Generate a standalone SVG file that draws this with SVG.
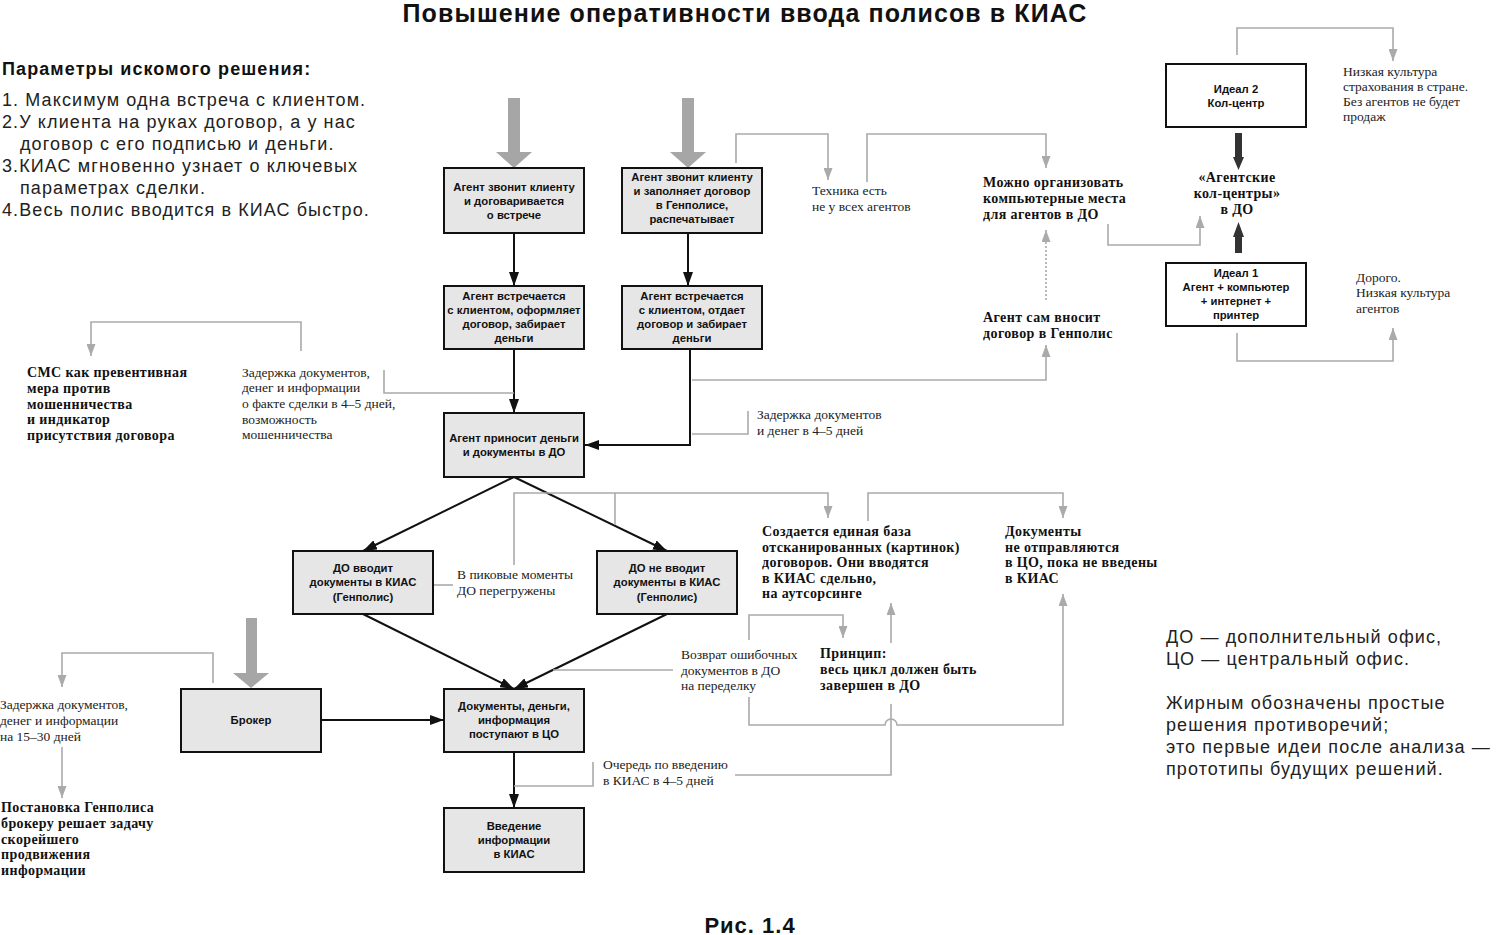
<svg xmlns="http://www.w3.org/2000/svg" width="1500" height="935" viewBox="0 0 1500 935">
<style>
.box{fill:#e6e6e6;stroke:#111;stroke-width:2}
.ibox{fill:#fff;stroke:#111;stroke-width:2}
.bt{font-family:"Liberation Sans",Arial,sans-serif;font-weight:bold;font-size:11.3px;fill:#111;text-anchor:middle}
.s{font-family:"Liberation Serif","Times New Roman",serif;font-size:13.5px;fill:#222}
.sb{font-family:"Liberation Serif","Times New Roman",serif;font-size:14px;font-weight:bold;fill:#111;letter-spacing:0.4px}
.p{font-family:"Liberation Sans",Arial,sans-serif;font-size:18px;fill:#222;letter-spacing:1.1px}
.blk{fill:none;stroke:#111;stroke-width:2}
.gr{fill:none;stroke:#aaa;stroke-width:1.6}
.big{fill:#a6a6a6}
.dk{fill:#333}
</style>
<defs>
<marker id="ab" viewBox="0 0 14 10" refX="14" refY="5" markerWidth="14" markerHeight="10" orient="auto" markerUnits="userSpaceOnUse"><path d="M0,0 L14,5 L0,10 z" fill="#111"/></marker>
<marker id="ag" viewBox="0 0 12 9" refX="12" refY="4.5" markerWidth="12" markerHeight="9" orient="auto" markerUnits="userSpaceOnUse"><path d="M0,0 L12,4.5 L0,9 z" fill="#aaa"/></marker>
</defs>
<rect width="1500" height="935" fill="#fff"/>

<text x="745" y="22" text-anchor="middle" style="font-family:'Liberation Sans',Arial,sans-serif;font-weight:bold;font-size:25px;fill:#111;letter-spacing:1.1px">Повышение оперативности ввода полисов в КИАС</text>

<g id="params">
<text x="2" y="75" style="font-family:'Liberation Sans',Arial,sans-serif;font-weight:bold;font-size:18px;fill:#111;letter-spacing:1.1px">Параметры искомого решения:</text>
<text class="p" x="2" y="106">1. Максимум одна встреча с клиентом.</text>
<text class="p" x="2" y="128">2.У клиента на руках договор, а у нас</text>
<text class="p" x="20" y="150">договор с его подписью и деньги.</text>
<text class="p" x="2" y="172">3.КИАС мгновенно узнает о ключевых</text>
<text class="p" x="20" y="194">параметрах сделки.</text>
<text class="p" x="2" y="216">4.Весь полис вводится в КИАС быстро.</text>
</g>

<g id="connectors">
<polygon class="big" points="508,98 520,98 520,152 532,152 514,168 496,152 508,152"/>
<polygon class="big" points="682,98 694,98 694,152 706,152 688,168 670,152 682,152"/>
<polygon class="big" points="246,618 257,618 257,673 269,673 251,688 233,673 246,673"/>
<polygon class="dk" points="1235,133 1242,133 1242,157 1244,157 1238.5,170 1233,157 1235,157"/>
<polygon class="dk" points="1235,253 1242,253 1242,237 1244,237 1238.5,222 1233,237 1235,237"/>
<path class="blk" d="M514,233 V286" marker-end="url(#ab)"/>
<path class="blk" d="M688,233 V286" marker-end="url(#ab)"/>
<path class="blk" d="M514,349 V413" marker-end="url(#ab)"/>
<path class="blk" d="M690,349 V445 H585" marker-end="url(#ab)"/>
<path class="blk" d="M514,477 L363,551" marker-end="url(#ab)"/>
<path class="blk" d="M514,477 L667,551" marker-end="url(#ab)"/>
<path class="blk" d="M363,614 L514,689" marker-end="url(#ab)"/>
<path class="blk" d="M667,614 L514,689" marker-end="url(#ab)"/>
<path class="blk" d="M321,720 H444" marker-end="url(#ab)"/>
<path class="blk" d="M514,752 V808" marker-end="url(#ab)"/>
<path class="gr" d="M736,163 V134 H828 V180" marker-end="url(#ag)"/>
<path class="gr" d="M867,182 V134 H1046 V168" marker-end="url(#ag)"/>
<path class="gr" d="M1108,224 V245 H1200 V216" marker-end="url(#ag)"/>
<path class="gr" d="M1046,300 V230" stroke-dasharray="2,2" marker-end="url(#ag)"/>
<path class="gr" d="M692,380 H1046 V345" marker-end="url(#ag)"/>
<path class="gr" d="M1237,55 V28 H1393 V61" marker-end="url(#ag)"/>
<path class="gr" d="M1237,333 V361 H1393 V328" marker-end="url(#ag)"/>
<path class="gr" d="M301,351 V322 H91 V356" marker-end="url(#ag)"/>
<path class="gr" d="M384,370 V393 H514"/>
<path class="gr" d="M748,411 V434 H692"/>
<path class="gr" d="M514,565 V493 H828 V518" marker-end="url(#ag)"/>
<path class="gr" d="M615,493 V525"/>
<path class="gr" d="M433,585 H453"/>
<path class="gr" d="M868,521 V493 H1063 V518" marker-end="url(#ag)"/>
<path class="gr" d="M553,670 H673"/>
<path class="gr" d="M749,640 V615 H843 V638" marker-end="url(#ag)"/>
<path class="gr" d="M891,643 V603" marker-end="url(#ag)"/>
<path class="gr" d="M749,697 V725 H885 A6,6 0 0 1 897,725 H1063 V594" marker-end="url(#ag)"/>
<path class="gr" d="M891,704 V775 H735"/>
<path class="gr" d="M593,762 V786 H514"/>
<path class="gr" d="M213,683 V653 H62 V687" marker-end="url(#ag)"/>
<path class="gr" d="M62,747 V798" marker-end="url(#ag)"/>
</g>

<g id="b1"><rect class="box" x="444" y="168" width="140" height="65"/>
<text class="bt" x="514" y="191">Агент звонит клиенту</text><text class="bt" x="514" y="205">и договаривается</text><text class="bt" x="514" y="219">о встрече</text></g>
<g id="b2"><rect class="box" x="622" y="168" width="140" height="65"/>
<text class="bt" x="692" y="181">Агент звонит клиенту</text><text class="bt" x="692" y="195">и заполняет договор</text><text class="bt" x="692" y="209">в Генполисе,</text><text class="bt" x="692" y="223">распечатывает</text></g>
<g id="b3"><rect class="box" x="444" y="286" width="140" height="63"/>
<text class="bt" x="514" y="300">Агент встречается</text><text class="bt" x="514" y="314">с клиентом, оформляет</text><text class="bt" x="514" y="328">договор, забирает</text><text class="bt" x="514" y="342">деньги</text></g>
<g id="b4"><rect class="box" x="622" y="286" width="140" height="63"/>
<text class="bt" x="692" y="300">Агент встречается</text><text class="bt" x="692" y="314">с клиентом, отдает</text><text class="bt" x="692" y="328">договор и забирает</text><text class="bt" x="692" y="342">деньги</text></g>
<g id="b5"><rect class="box" x="444" y="413" width="140" height="64"/>
<text class="bt" x="514" y="442">Агент приносит деньги</text><text class="bt" x="514" y="456">и документы в ДО</text></g>
<g id="b6"><rect class="box" x="293" y="551" width="140" height="63"/>
<text class="bt" x="363" y="572">ДО вводит</text><text class="bt" x="363" y="586">документы в КИАС</text><text class="bt" x="363" y="601">(Генполис)</text></g>
<g id="b7"><rect class="box" x="597" y="551" width="140" height="63"/>
<text class="bt" x="667" y="572">ДО не вводит</text><text class="bt" x="667" y="586">документы в КИАС</text><text class="bt" x="667" y="601">(Генполис)</text></g>
<g id="b8"><rect class="box" x="181" y="689" width="140" height="63"/>
<text class="bt" x="251" y="724">Брокер</text></g>
<g id="b9"><rect class="box" x="444" y="689" width="140" height="63"/>
<text class="bt" x="514" y="710">Документы, деньги,</text><text class="bt" x="514" y="724">информация</text><text class="bt" x="514" y="738">поступают в ЦО</text></g>
<g id="b10"><rect class="box" x="444" y="808" width="140" height="64"/>
<text class="bt" x="514" y="830">Введение</text><text class="bt" x="514" y="844">информации</text><text class="bt" x="514" y="858">в КИАС</text></g>
<g id="ideal2"><rect class="ibox" x="1166" y="64" width="140" height="63"/>
<text class="bt" x="1236" y="93">Идеал 2</text><text class="bt" x="1236" y="107">Кол-центр</text></g>
<g id="ideal1"><rect class="ibox" x="1166" y="263" width="140" height="63"/>
<text class="bt" x="1236" y="277">Идеал 1</text><text class="bt" x="1236" y="291">Агент + компьютер</text><text class="bt" x="1236" y="305">+ интернет +</text><text class="bt" x="1236" y="319">принтер</text></g>

<g id="n-tech"><text class="s" x="812" y="195">Техника есть</text><text class="s" x="812" y="211">не у всех агентов</text></g>
<g id="n-comp"><text class="sb" x="983" y="187">Можно организовать</text><text class="sb" x="983" y="203">компьютерные места</text><text class="sb" x="983" y="219">для агентов в ДО</text></g>
<g id="n-self"><text class="sb" x="983" y="322">Агент сам вносит</text><text class="sb" x="983" y="338">договор в Генполис</text></g>
<g id="n-callc"><text class="sb" x="1237" y="182" text-anchor="middle">«Агентские</text><text class="sb" x="1237" y="198" text-anchor="middle">кол-центры»</text><text class="sb" x="1237" y="214" text-anchor="middle">в ДО</text></g>
<g id="n-lowcult"><text class="s" x="1343" y="76">Низкая культура</text><text class="s" x="1343" y="91">страхования в стране.</text><text class="s" x="1343" y="106">Без агентов не будет</text><text class="s" x="1343" y="121">продаж</text></g>
<g id="n-dear"><text class="s" x="1356" y="282">Дорого.</text><text class="s" x="1356" y="297">Низкая культура</text><text class="s" x="1356" y="313">агентов</text></g>
<g id="n-sms"><text class="sb" x="27" y="377">СМС как превентивная</text><text class="sb" x="27" y="393">мера против</text><text class="sb" x="27" y="409">мошенничества</text><text class="sb" x="27" y="424">и индикатор</text><text class="sb" x="27" y="440">присутствия договора</text></g>
<g id="n-delay1"><text class="s" x="242" y="377">Задержка документов,</text><text class="s" x="242" y="392">денег и информации</text><text class="s" x="242" y="408">о факте сделки в 4–5 дней,</text><text class="s" x="242" y="424">возможность</text><text class="s" x="242" y="439">мошенничества</text></g>
<g id="n-delay2"><text class="s" x="757" y="419">Задержка документов</text><text class="s" x="757" y="435">и денег в 4–5 дней</text></g>
<g id="n-peak"><text class="s" x="457" y="579">В пиковые моменты</text><text class="s" x="457" y="595">ДО перегружены</text></g>
<g id="n-base"><text class="sb" x="762" y="536">Создается единая база</text><text class="sb" x="762" y="552">отсканированных (картинок)</text><text class="sb" x="762" y="567">договоров. Они вводятся</text><text class="sb" x="762" y="583">в КИАС сдельно,</text><text class="sb" x="762" y="598">на аутсорсинге</text></g>
<g id="n-nosend"><text class="sb" x="1005" y="536">Документы</text><text class="sb" x="1005" y="552">не отправляются</text><text class="sb" x="1005" y="567">в ЦО, пока не введены</text><text class="sb" x="1005" y="583">в КИАС</text></g>
<g id="n-return"><text class="s" x="681" y="659">Возврат ошибочных</text><text class="s" x="681" y="675">документов в ДО</text><text class="s" x="681" y="690">на переделку</text></g>
<g id="n-princ"><text class="sb" x="820" y="658">Принцип:</text><text class="sb" x="820" y="674">весь цикл должен быть</text><text class="sb" x="820" y="690">завершен в ДО</text></g>
<g id="n-queue"><text class="s" x="603" y="769">Очередь по введению</text><text class="s" x="603" y="785">в КИАС в 4–5 дней</text></g>
<g id="n-delay3"><text class="s" x="0" y="709">Задержка документов,</text><text class="s" x="0" y="725">денег и информации</text><text class="s" x="0" y="741">на 15–30 дней</text></g>
<g id="n-broker"><text class="sb" x="1" y="812">Постановка Генполиса</text><text class="sb" x="1" y="828">брокеру решает задачу</text><text class="sb" x="1" y="844">скорейшего</text><text class="sb" x="1" y="859">продвижения</text><text class="sb" x="1" y="875">информации</text></g>

<g id="legend">
<text class="p" x="1166" y="643">ДО — дополнительный офис,</text>
<text class="p" x="1166" y="665">ЦО — центральный офис.</text>
<text class="p" x="1166" y="709">Жирным обозначены простые</text>
<text class="p" x="1166" y="731">решения противоречий;</text>
<text class="p" x="1166" y="753">это первые идеи после анализа —</text>
<text class="p" x="1166" y="775">прототипы будущих решений.</text>
</g>

<text x="750" y="933" text-anchor="middle" style="font-family:'Liberation Sans',Arial,sans-serif;font-weight:bold;font-size:22px;fill:#111;letter-spacing:1px">Рис. 1.4</text>
</svg>
